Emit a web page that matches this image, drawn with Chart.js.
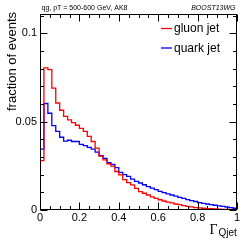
<!DOCTYPE html>
<html>
<head>
<meta charset="utf-8">
<script src="https://cdn.jsdelivr.net/npm/chart.js@4/dist/chart.umd.min.js"></script>
<style>
html,body{margin:0;padding:0;background:#fff;}
#wrap{width:249px;height:242px;position:relative;}
</style>
</head>
<body>
<div id="wrap"><canvas id="c" width="249" height="242"></canvas></div>
<script>
// ---- data ----
const binWidth = 0.02;
const gluon = [0.028, 0.0805, 0.0795, 0.069, 0.0606, 0.0565, 0.053, 0.051, 0.0495, 0.048,
  0.0462, 0.0445, 0.0417, 0.0388, 0.035, 0.0305, 0.0284, 0.0262, 0.0248, 0.0218,
  0.0199, 0.0172, 0.0155, 0.0142, 0.0123, 0.0104, 0.0095, 0.0085, 0.0074, 0.0066,
  0.0058, 0.0051, 0.0045, 0.004, 0.0034, 0.003, 0.0025, 0.0021, 0.0018, 0.0014,
  0.0012, 0.001, 0.0008, 0.0007, 0.0006, 0.0005, 0.0004, 0.0004, 0.0003, 0.0002];
const quark = [0.0345, 0.0603, 0.0548, 0.0478, 0.0445, 0.0412, 0.039, 0.0395, 0.0388, 0.0388,
  0.0372, 0.0365, 0.0355, 0.0345, 0.0328, 0.0308, 0.0292, 0.0268, 0.0258, 0.024,
  0.0213, 0.02, 0.019, 0.0175, 0.0162, 0.0153, 0.0143, 0.0132, 0.0124, 0.0115,
  0.0105, 0.0098, 0.0091, 0.0085, 0.0079, 0.0071, 0.0066, 0.0059, 0.0053, 0.0048,
  0.0042, 0.0038, 0.0034, 0.003, 0.0027, 0.0023, 0.002, 0.0016, 0.0013, 0.001];
const xTicks = [0, 0.2, 0.4, 0.6, 0.8, 1];
const yTicks = [0, 0.05, 0.1];
const xTickLabels = ['0', '0.2', '0.4', '0.6', '0.8', '1'];
const yTickLabels = ['0', '0.05', '0.1'];
const seriesNames = ['gluon jet', 'quark jet'];
const topLeftText = 'qg, pT = 500-600 GeV, AK8';
const topRightText = 'BOOST13WG';
const yTitle = 'fraction of events';

function histPoints(vals) {
  const pts = [{x: 0, y: 0}];
  vals.forEach((v, i) => pts.push({x: i * binWidth, y: v}));
  pts.push({x: vals.length * binWidth, y: vals[vals.length - 1]});
  pts.push({x: vals.length * binWidth, y: 0});
  return pts;
}

const FONT = "'Liberation Sans', Arial, sans-serif";

const rootPlugin = {
  id: 'rootStyle',
  afterDraw(chart) {
    const ctx = chart.ctx;
    const a = chart.chartArea;
    const xs = chart.scales.x, ys = chart.scales.y;
    ctx.save();
    ctx.strokeStyle = '#000';
    ctx.lineWidth = 1;
    const L = Math.round(a.left) + 0.5, R = Math.round(a.right) - 0.5;
    const T = Math.round(a.top) + 0.5, B = Math.round(a.bottom) - 0.5;
    ctx.strokeRect(L, T, R - L, B - T);
    ctx.beginPath();
    for (let k = 0; k <= 20; k++) {
      const v = k * 0.05;
      const px = Math.round(xs.getPixelForValue(v)) + 0.5;
      const major = (k % 4 === 0);
      const len = major ? 7 : 3.5;
      ctx.moveTo(px, B); ctx.lineTo(px, B - len);
      ctx.moveTo(px, T); ctx.lineTo(px, T + len);
    }
    for (let k = 0; k <= 11; k++) {
      const v = k * 0.01;
      const py = Math.round(ys.getPixelForValue(v)) + 0.5;
      if (py < T - 0.1) continue;
      const major = (k % 5 === 0);
      const len = major ? 7 : 3.5;
      ctx.moveTo(L, py); ctx.lineTo(L + len, py);
      ctx.moveTo(R, py); ctx.lineTo(R - len, py);
    }
    ctx.stroke();

    // legend
    const legendColors = ['#ff0000', '#0000ff'];
    const legendY = [28.5, 48];
    ctx.lineWidth = 1.3;
    for (let i = 0; i < 2; i++) {
      ctx.strokeStyle = legendColors[i];
      ctx.beginPath();
      ctx.moveTo(161, legendY[i]); ctx.lineTo(172, legendY[i]);
      ctx.stroke();
      ctx.fillStyle = '#000';
      ctx.font = '12px ' + FONT;
      ctx.textAlign = 'left';
      ctx.textBaseline = 'middle';
      ctx.fillText(seriesNames[i], 174, legendY[i] + 0.5);
    }

    // top texts
    ctx.fillStyle = '#000';
    ctx.textBaseline = 'alphabetic';
    ctx.font = '7px ' + FONT;
    ctx.textAlign = 'left';
    ctx.fillText(topLeftText, 41.5, 9.5);
    ctx.font = 'italic 7px ' + FONT;
    ctx.textAlign = 'right';
    ctx.fillText(topRightText, 235.5, 9.5);

    // y title
    ctx.save();
    ctx.translate(15.5, 12);
    ctx.rotate(-Math.PI / 2);
    ctx.font = '13px ' + FONT;
    ctx.textAlign = 'right';
    ctx.textBaseline = 'alphabetic';
    ctx.fillText(yTitle, 0, 0);
    ctx.restore();

    // x title: Gamma with subscript
    ctx.font = "14px 'Liberation Serif', 'Times New Roman', serif";
    ctx.textAlign = 'left';
    ctx.fillText('\u0393', 209.5, 233.5);
    ctx.font = '10px ' + FONT;
    ctx.fillText('Qjet', 218.5, 236.3);
    ctx.restore();
  }
};

new Chart(document.getElementById('c'), {
  type: 'line',
  data: {
    datasets: [
      {label: seriesNames[0], data: histPoints(gluon), borderColor: '#ff0000', borderWidth: 1.3,
       stepped: 'before', pointRadius: 0, fill: false, tension: 0},
      {label: seriesNames[1], data: histPoints(quark), borderColor: '#0000ff', borderWidth: 1.3,
       stepped: 'before', pointRadius: 0, fill: false, tension: 0}
    ]
  },
  options: {
    responsive: false,
    devicePixelRatio: 1,
    animation: false,
    events: [],
    layout: {padding: {left: 0, right: 12, top: 14, bottom: 0}},
    plugins: {legend: {display: false}, tooltip: {enabled: false}, title: {display: false}},
    scales: {
      x: {
        type: 'linear', min: 0, max: 1,
        grid: {display: false, drawTicks: false},
        border: {display: false},
        afterBuildTicks(s) { s.ticks = xTicks.map(v => ({value: v})); },
        afterFit(s) { s.height = 32; },
        ticks: {
          padding: 1, color: '#000', font: {family: FONT, size: 11},
          maxRotation: 0, autoSkip: false,
          callback(v) { const i = xTicks.indexOf(v); return i >= 0 ? xTickLabels[i] : ''; }
        }
      },
      y: {
        type: 'linear', min: 0, max: 0.111,
        grid: {display: false, drawTicks: false},
        border: {display: false},
        afterBuildTicks(s) { s.ticks = yTicks.map(v => ({value: v})); },
        afterFit(s) { s.width = 40; },
        ticks: {
          padding: 3, color: '#000', font: {family: FONT, size: 11},
          autoSkip: false,
          callback(v) { const i = yTicks.indexOf(v); return i >= 0 ? yTickLabels[i] : ''; }
        }
      }
    }
  },
  plugins: [rootPlugin]
});
</script>
</body>
</html>
